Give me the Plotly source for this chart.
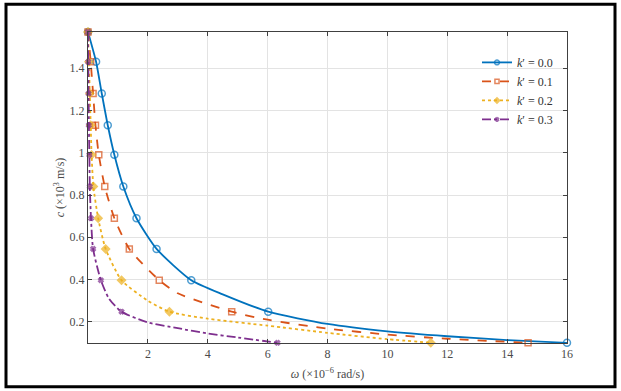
import plotly.graph_objects as go

# ---- data ----
# phase velocity levels at which markers are drawn (x10^3 m/s)
c_markers = [1.571, 1.43, 1.28, 1.13, 0.99, 0.84, 0.69, 0.545, 0.397, 0.248, 0.101]

w_k00 = [0.0, 0.27, 0.46, 0.66, 0.88, 1.18, 1.62, 2.29, 3.45, 6.02, 16.0]
w_k01 = [0.0, 0.09, 0.17, 0.25, 0.36, 0.56, 0.88, 1.38, 2.38, 4.8, 14.7]
w_k02 = [0.0, 0.03, 0.06, 0.09, 0.12, 0.18, 0.34, 0.59, 1.12, 2.72, 11.45]
w_k03 = [0.0, 0.01, 0.02, 0.03, 0.045, 0.06, 0.1, 0.17, 0.43, 1.12, 6.33]

# extra points (line only)
w_k00_line = [4.5, 8.0, 10.0, 12.0, 14.0]
c_k00_line = [0.33, 0.19, 0.155, 0.132, 0.114]
w_k01_line = [3.0, 6.0, 8.0, 10.0, 12.0]
c_k01_line = [0.335, 0.21, 0.168, 0.14, 0.12]
w_k02_line = [2.0, 4.0, 6.0, 8.0, 10.0]
c_k02_line = [0.30, 0.215, 0.182, 0.148, 0.118]
w_k03_line = [0.7, 2.0, 3.0, 4.0, 5.0]
c_k03_line = [0.31, 0.197, 0.17, 0.145, 0.126]

labels = ["<i>k</i>′ = 0.0", "<i>k</i>′ = 0.1", "<i>k</i>′ = 0.2", "<i>k</i>′ = 0.3"]
colors = ["#0072BD", "#D95319", "#EDB120", "#7E2F8E"]
dashes = ["solid", "dash", "dot", "dashdot"]
symbols = ["circle-open", "square-open", "diamond", "x"]
msizes = [7, 6, 6, 4]

x_ticks = [2, 4, 6, 8, 10, 12, 14, 16]
y_ticks = [0.2, 0.4, 0.6, 0.8, 1.0, 1.2, 1.4]
y_ticklabels = ["0.2", "0.4", "0.6", "0.8", "1", "1.2", "1.4"]

series = [
    (w_k00, w_k00_line, c_k00_line),
    (w_k01, w_k01_line, c_k01_line),
    (w_k02, w_k02_line, c_k02_line),
    (w_k03, w_k03_line, c_k03_line),
]

fig = go.Figure()
for i, (wm, wl, cl) in enumerate(series):
    pts = [(w, c, msizes[i]) for w, c in zip(wm, c_markers)] + [(w, c, 0) for w, c in zip(wl, cl)]
    pts.sort(key=lambda p: (p[0], -p[1]))
    xs = [p[0] for p in pts]
    ys = [p[1] for p in pts]
    ss = [p[2] for p in pts]
    fig.add_trace(go.Scatter(
        x=xs, y=ys, mode="lines+markers", name=labels[i],
        line=dict(color=colors[i], width=1.8, dash=dashes[i], shape="spline", smoothing=0.6),
        marker=dict(symbol=symbols[i], size=ss, color=colors[i],
                    line=dict(color=colors[i], width=1.5)),
        cliponaxis=False,
    ))

L, R, T, B = 88, 54, 32, 46
W, H = 621, 391
pw, ph = W - L - R, H - T - B

def px_to_paper_x(px):
    return (px - L) / pw

def px_to_paper_y(py):
    return (H - B - py) / ph

axis_common = dict(
    showline=True, linecolor="#404040", linewidth=1, mirror="ticks",
    ticks="inside", ticklen=4, tickcolor="#404040",
    showgrid=True, gridcolor="#e3e3e3", gridwidth=1, zeroline=False,
    tickfont=dict(family="Liberation Serif", size=12, color="#4a4a4a"),
)

fig.update_layout(
    width=W, height=H,
    margin=dict(l=L, r=R, t=T, b=B),
    paper_bgcolor="white", plot_bgcolor="white",
    font=dict(family="Liberation Serif", size=12, color="#333333"),
    xaxis=dict(range=[0, 16], tickvals=x_ticks,
               title=dict(text="<i>ω</i> (×10<sup>−6</sup> rad/s)", standoff=9,
                          font=dict(size=12, color="#4a4a4a")),
               **axis_common),
    yaxis=dict(range=[0.1, 1.571], tickvals=y_ticks, ticktext=y_ticklabels,
               title=dict(text="<i>c</i> (×10<sup>3</sup> m/s)", standoff=2,
                          font=dict(size=12, color="#4a4a4a")),
               **axis_common),
    legend=dict(x=px_to_paper_x(558), y=px_to_paper_y(48), xanchor="right", yanchor="top",
                bgcolor="rgba(255,255,255,0)", borderwidth=0,
                font=dict(family="Liberation Serif", size=12, color="#333333"),
                itemwidth=30, tracegroupgap=0),
    showlegend=True,
)

# outer black frame around the whole picture
fig.add_shape(type="rect", xref="paper", yref="paper",
              x0=px_to_paper_x(6), x1=px_to_paper_x(615),
              y0=px_to_paper_y(389), y1=px_to_paper_y(4),
              line=dict(color="black", width=3), fillcolor="rgba(0,0,0,0)", layer="above")

fig.write_html("out.html")
